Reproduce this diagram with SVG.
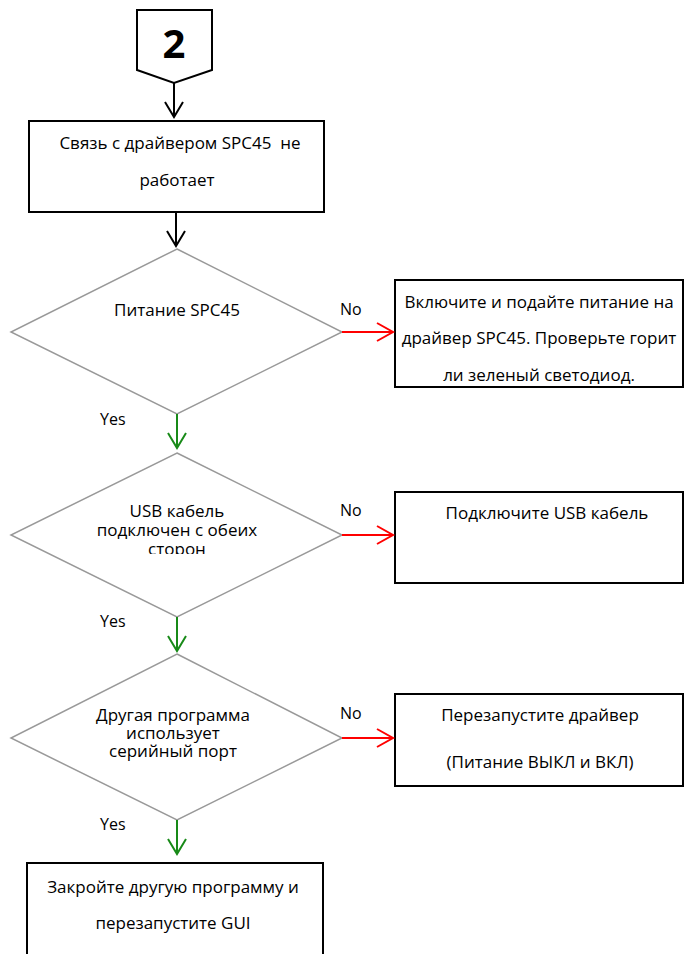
<svg xmlns="http://www.w3.org/2000/svg" width="685" height="954" viewBox="0 0 685 954">
  <defs>
    <style>
      .box { fill: #fff; stroke: #000; stroke-width: 2; }
      .dec { fill: #fff; stroke: #999; stroke-width: 1.5; }
      .t { font-family: "Open Sans", "Liberation Sans", sans-serif; font-size: 17px; fill: #000; text-anchor: middle; white-space: pre; }
      .lbl { font-family: "Open Sans", "Liberation Sans", sans-serif; font-size: 16px; fill: #000; }
      .big { font-family: "Open Sans", "Liberation Sans", sans-serif; font-size: 40px; font-weight: bold; fill: #000; text-anchor: middle; }
      .c-black { stroke: #000; stroke-width: 2; fill: none; }
      .c-red { stroke: #ff0000; stroke-width: 2; fill: none; }
      .c-green { stroke: #188a18; stroke-width: 2; fill: none; }
    </style>
    <clipPath id="clip-usb">
      <rect x="0" y="490" width="360" height="64"/>
    </clipPath>
  </defs>
  <rect width="685" height="954" fill="#fff"/>

  <!-- off-page connector -->
  <g id="conn2">
    <path class="box" d="M137,10 H212 V70 L174,83 L137,70 Z"/>
    <text class="big" x="174" y="58">2</text>
  </g>

  <g id="start">
    <rect class="box" x="29" y="121" width="295" height="91"/>
    <text class="t" x="180" y="149">Связь с драйвером SPC45  не</text>
    <text class="t" x="177" y="186">работает</text>
  </g>

  <g id="q-power">
    <polygon class="dec" points="177,249 342,332 177,414 11,332"/>
    <text class="t" x="177" y="316">Питание SPC45</text>
  </g>

  <g id="a-power">
    <rect class="box" x="395" y="280" width="288" height="107"/>
    <text class="t" x="539" y="308">Включите и подайте питание на</text>
    <text class="t" x="539" y="344">драйвер SPC45. Проверьте горит</text>
    <text class="t" x="539" y="381">ли зеленый светодиод.</text>
  </g>

  <g id="q-usb">
    <polygon class="dec" points="177,453 342,535 177,617 11,535"/>
    <g clip-path="url(#clip-usb)">
      <text class="t" x="177" y="517">USB кабель</text>
      <text class="t" x="177" y="536">подключен с обеих</text>
      <text class="t" x="177" y="555">сторон</text>
    </g>
  </g>

  <g id="a-usb">
    <rect class="box" x="395" y="492" width="288" height="91"/>
    <text class="t" x="547" y="519">Подключите USB кабель</text>
  </g>

  <g id="q-port">
    <polygon class="dec" points="177,654 342,738 177,820 11,738"/>
    <text class="t" x="173" y="721">Другая программа</text>
    <text class="t" x="173" y="739">использует</text>
    <text class="t" x="173" y="757">серийный порт</text>
  </g>

  <g id="a-port">
    <rect class="box" x="395" y="694" width="288" height="92"/>
    <text class="t" x="540" y="721">Перезапустите драйвер</text>
    <text class="t" x="540" y="768">(Питание ВЫКЛ и ВКЛ)</text>
  </g>

  <g id="end">
    <rect class="box" x="27" y="863" width="296" height="100"/>
    <text class="t" x="173" y="893">Закройте другую программу и</text>
    <text class="t" x="173" y="929">перезапустите GUI</text>
  </g>

  <!-- connectors -->
  <g id="connectors">
    <path class="c-black" d="M174,83 V117 M165,102 L174,117 L183,102"/>
    <path class="c-black" d="M176,212 V246 M167,231 L176,246 L185,231"/>

    <path class="c-red" d="M342,332 H393 M377,323 L393,332 L377,341"/>
    <path class="c-green" d="M177,414 V448 M168,433 L177,448 L186,433"/>

    <path class="c-red" d="M342,535 H393 M377,526 L393,535 L377,544"/>
    <path class="c-green" d="M177,617 V651 M168,636 L177,651 L186,636"/>

    <path class="c-red" d="M342,738 H393 M377,729 L393,738 L377,747"/>
    <path class="c-green" d="M177,820 V854 M168,839 L177,854 L186,839"/>
  </g>

  <!-- branch labels -->
  <g id="labels">
    <text class="lbl" x="340" y="315">No</text>
    <text class="lbl" x="100" y="425">Yes</text>
    <text class="lbl" x="340" y="516">No</text>
    <text class="lbl" x="100" y="627">Yes</text>
    <text class="lbl" x="340" y="719">No</text>
    <text class="lbl" x="100" y="830">Yes</text>
  </g>
</svg>
